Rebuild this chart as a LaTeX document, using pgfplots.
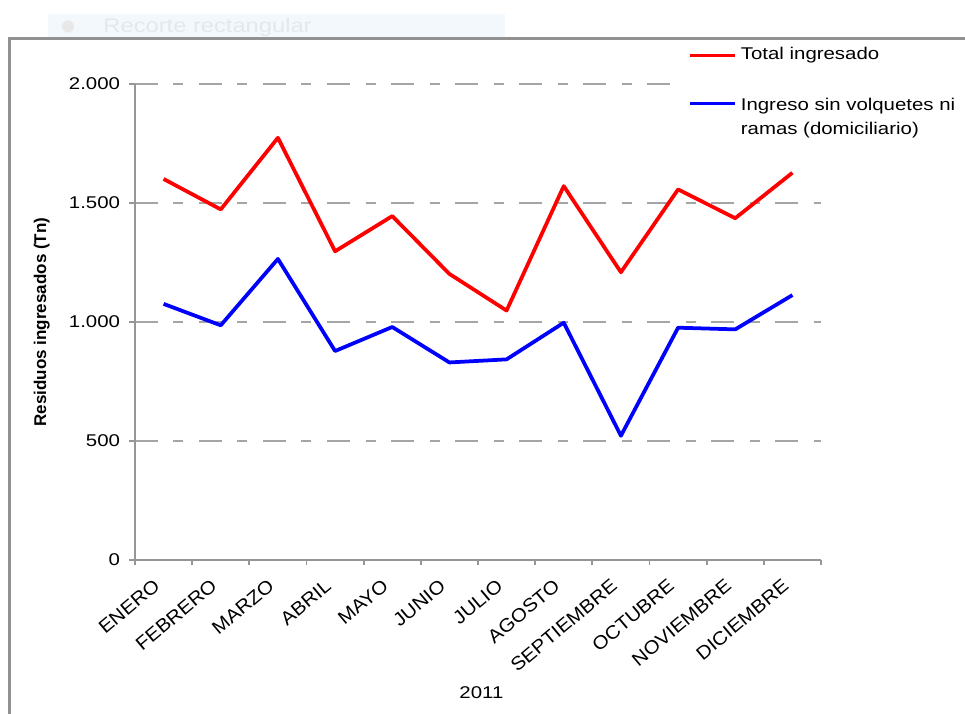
\documentclass[border=0pt]{standalone}
\usepackage{pgfplots}
\pgfplotsset{compat=1.18}
\usepackage{fontspec}
\setmainfont{Liberation Sans}[FakeStretch=1.2]
\newfontfamily\ylfont{Liberation Sans}
\newfontfamily\monthfont{Liberation Sans}[FakeStretch=1.09]
\definecolor{axgray}{RGB}{150,150,150}
\definecolor{gridgray}{RGB}{165,165,165}
\definecolor{framegray}{RGB}{145,145,145}
\definecolor{recbox}{RGB}{243,248,253}
\definecolor{rectext}{RGB}{228,232,236}
\definecolor{recdot}{RGB}{232,232,232}

\pgfplotstableread{
x total domic
0 1601 1076
1 1473 986
2 1774 1265
3 1297 878
4 1445 979
5 1202 830
6 1048 843
7 1571 997
8 1209 522
9 1557 976
10 1436 969
11 1627 1113
}\datatable

\begin{document}
\begin{tikzpicture}
\path[use as bounding box] (-54pt,-61.6pt) rectangle (332pt,224pt);
% screenshot overlay artefact
\fill[recbox] (-34.8pt,208pt) rectangle (148pt,218.4pt);
\fill[recdot] (-26.8pt,213.4pt) circle (2.4pt);
\node[anchor=west, inner sep=0pt, text=rectext, font=\fontsize{7.9}{9}\selectfont] at (-12.8pt,213.2pt) {Recorte rectangular};
% outer frame
\draw[framegray, line width=1.2pt] (-50pt,-63pt) -- (-50pt,208.6pt) -- (334pt,208.6pt);

\begin{axis}[
  at={(0pt,0pt)}, anchor=south west,
  scale only axis,
  width=274.4pt, height=190.4pt,
  xmin=-0.5, xmax=11.5,
  ymin=0, ymax=2000,
  axis x line*=bottom, axis y line*=left,
  axis line style={axgray, line width=0.7pt, -},
  tick align=outside,
  major tick length=2.2pt,
  tick style={axgray, line width=0.7pt},
  xtick={-0.5,0.5,...,11.5},
  xticklabels={,,,,,,,,,,,,},
  extra x ticks={0,1,2,3,4,5,6,7,8,9,10,11},
  extra x tick labels={ENERO,FEBRERO,MARZO,ABRIL,MAYO,JUNIO,JULIO,AGOSTO,SEPTIEMBRE,OCTUBRE,NOVIEMBRE,DICIEMBRE},
  extra x tick style={major tick length=0pt, grid=none},
  x tick label style={xshift=-4.4pt, yshift=-7pt, rotate=40, anchor=north east, inner sep=0pt, font=\monthfont\fontsize{7.5}{8.5}\selectfont},
  ytick={0,500,1000,1500,2000},
  yticklabels={0,500,1.000,1.500,2.000},
  y tick label style={anchor=east, inner sep=0pt, xshift=-3.6pt, font=\fontsize{6.8}{8}\selectfont},
  ymajorgrids,
  grid style={gridgray, line width=0.8pt, dash pattern=on 9.2pt off 6.2pt on 4pt off 6.2pt},
  xlabel={2011},
  every axis x label/.style={at={(axis description cs:0.505,0)}, yshift=-53.2pt, anchor=center, font=\fontsize{6.8}{8}\selectfont},
  ylabel={Residuos ingresados (Tn)},
  every axis y label/.style={at={(axis description cs:0,0.5)}, xshift=-37.3pt, rotate=90, anchor=center, font=\ylfont\bfseries\fontsize{6.8}{8}\selectfont},
  legend image code/.code={\draw[#1, line width=1.5pt] (0pt,0pt) -- (18pt,0pt);},
  legend style={at={(rel axis cs:0.787,1.0924)}, anchor=north west, draw=none, fill=white,
    inner xsep=5pt, inner ysep=1.8pt, row sep=9.9pt, column sep=0.7pt,
    nodes={inner sep=1pt, anchor=west},
    font=\fontsize{6.8}{9.6}\selectfont},
  legend cell align=left,
]
\addplot[red, line width=1.5pt, line join=round, no markers] table[x=x, y=total] {\datatable};
\addlegendentry{Total ingresado}
\addplot[blue, line width=1.5pt, line join=round, no markers] table[x=x, y=domic] {\datatable};
\addlegendentry{\begin{tabular}[t]{@{}l@{}}Ingreso sin volquetes ni\\ramas (domiciliario)\end{tabular}}
\end{axis}
\end{tikzpicture}
\end{document}
